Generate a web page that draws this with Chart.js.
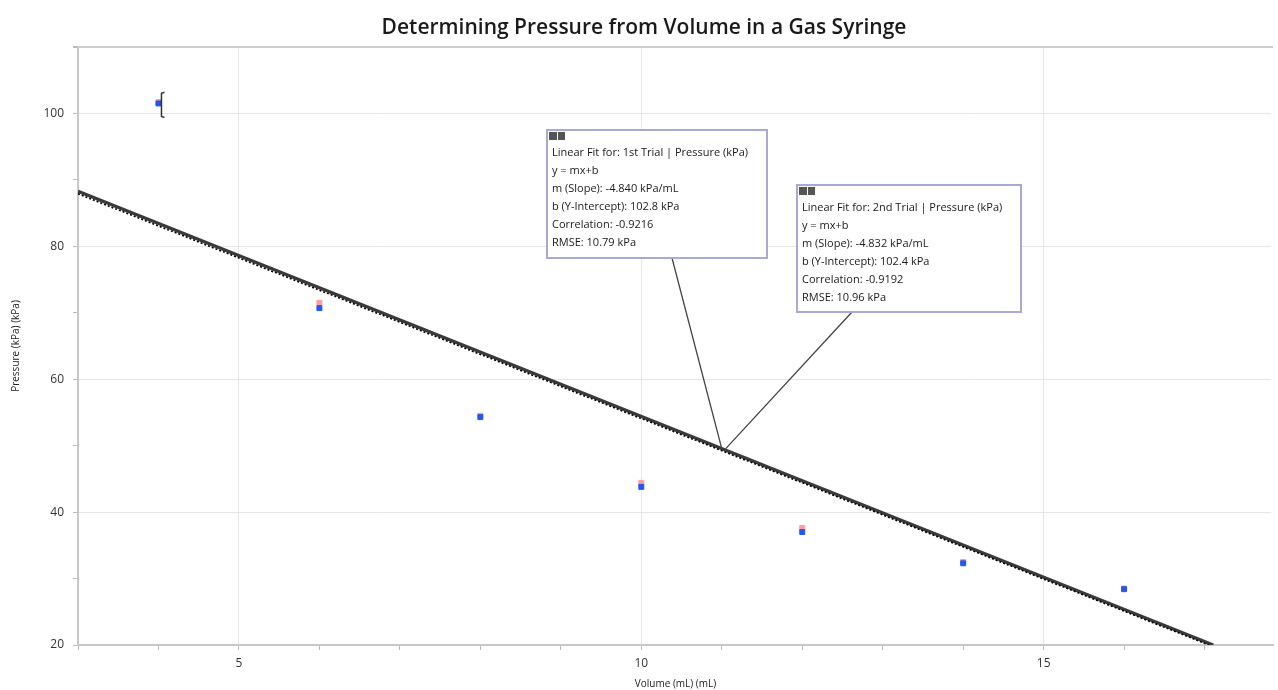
<!DOCTYPE html>
<html>
<head>
<meta charset="utf-8">
<script src="https://cdn.jsdelivr.net/npm/chart.js@4/dist/chart.umd.min.js"></script>
<style>
html,body{margin:0;padding:0;background:#fff;}
#wrap{width:1278px;height:690px;position:relative;overflow:hidden;}
</style>
</head>
<body>
<div id="wrap"><canvas id="c" width="1278" height="690"></canvas></div>
<script>
// ---- data ----
const volumes = [4, 6, 8, 10, 12, 14, 16];
const trial1Pressure = [101.7, 71.5, 54.5, 44.4, 37.6, 32.5, 28.5];
const trial2Pressure = [101.5, 70.7, 54.3, 43.8, 37.0, 32.3, 28.4];
const fitNames = ['1st Trial', '2nd Trial'];
const fitSlopes = [-4.840, -4.832];
const fitIntercepts = [102.8, 102.4];
const fitCorrelations = ['-0.9216', '-0.9192'];
const fitRMSE = ['10.79', '10.96'];
const errX = [4];
const errLow = [99.4];
const errHigh = [103.2];
const xRange = [3, 17.85];
const yRange = [20, 110];
const annotationX = 11;

const fitLine = (i) => {
  const x0 = xRange[0];
  const x1 = (yRange[0] - fitIntercepts[i]) / fitSlopes[i];
  return [{x: x0, y: fitSlopes[i]*x0 + fitIntercepts[i]}, {x: x1, y: yRange[0]}];
};

const mk = (ys) => volumes.map((v, i) => ({x: v, y: ys[i]}));

const FONT = '"Open Sans", "DejaVu Sans", sans-serif';

const edgePlugin = {
  id: 'edge',
  beforeDatasetsDraw(chart) {
    const {ctx, chartArea: ca} = chart;
    ctx.save();
    ctx.fillStyle = '#fff';
    ctx.fillRect(ca.right - 2, ca.top + 2, 10, ca.bottom - ca.top - 3);
    ctx.restore();
  }
};

const errPlugin = {
  id: 'err',
  afterDatasetsDraw(chart) {
    const {ctx, scales: {x, y}} = chart;
    ctx.save();
    ctx.strokeStyle = '#333';
    ctx.lineWidth = 1.5;
    errX.forEach((ex, i) => {
      const px = x.getPixelForValue(ex) + 3;
      const t = y.getPixelForValue(errHigh[i]);
      const b = y.getPixelForValue(errLow[i]);
      ctx.beginPath();
      ctx.moveTo(px + 3, t);
      ctx.lineTo(px, t + 1);
      ctx.lineTo(px, b - 1);
      ctx.lineTo(px + 3, b);
      ctx.stroke();
    });
    ctx.restore();
  }
};

const boxes = [
  {l: 547, t: 130, w: 220, h: 128, lx: 672},
  {l: 797, t: 185, w: 224, h: 127, lx: 852}
];

const annPlugin = {
  id: 'ann',
  afterDraw(chart) {
    const {ctx, scales: {x, y}} = chart;
    const ax = x.getPixelForValue(annotationX);
    const ay = y.getPixelForValue(fitSlopes[0]*annotationX + fitIntercepts[0]);
    ctx.save();
    boxes.forEach((b, i) => {
      ctx.strokeStyle = '#444';
      ctx.lineWidth = 1.3;
      ctx.beginPath();
      ctx.moveTo(b.lx, b.t + b.h);
      ctx.lineTo(ax + (i === 0 ? 0 : 4), ay);
      ctx.stroke();
      ctx.fillStyle = '#fff';
      ctx.fillRect(b.l, b.t, b.w, b.h);
      ctx.strokeStyle = '#a9a9d6';
      ctx.lineWidth = 2;
      ctx.strokeRect(b.l, b.t, b.w, b.h);
      ctx.fillStyle = '#555';
      ctx.fillRect(b.l + 2, b.t + 2, 8, 8);
      ctx.fillRect(b.l + 11, b.t + 2, 7, 8);
      const lines = [
        'Linear Fit for: ' + fitNames[i] + ' | Pressure (kPa)',
        'y = mx+b',
        'm (Slope): ' + fitSlopes[i].toFixed(3) + ' kPa/mL',
        'b (Y-Intercept): ' + fitIntercepts[i].toFixed(1) + ' kPa',
        'Correlation: ' + fitCorrelations[i],
        'RMSE: ' + fitRMSE[i] + ' kPa'
      ];
      ctx.fillStyle = '#1a1a1a';
      ctx.font = '11px ' + FONT;
      ctx.textBaseline = 'middle';
      ctx.textAlign = 'left';
      lines.forEach((s, k) => ctx.fillText(s, b.l + 5, b.t + 23 + k*18));
    });
    ctx.restore();
  }
};

new Chart(document.getElementById('c'), {
  type: 'scatter',
  data: {
    datasets: [
      {label: 'Fit 1st', type: 'line', data: fitLine(0), borderColor: '#3a3a3a', borderWidth: 3.2, pointRadius: 0, showLine: true, order: 3},
      {label: 'Fit 2nd', type: 'line', data: fitLine(1), borderColor: '#000', borderWidth: 1.6, borderDash: [2, 2], pointRadius: 0, showLine: true, order: 2},
      {label: '1st Trial', data: mk(trial1Pressure), backgroundColor: '#ff9ca4', borderColor: '#ff9ca4', pointStyle: 'rect', pointRadius: 3.5, order: 1},
      {label: '2nd Trial', data: mk(trial2Pressure), backgroundColor: '#2457ee', borderColor: '#2457ee', pointStyle: 'rect', pointRadius: 3.5, order: 0}
    ]
  },
  options: {
    responsive: false,
    animation: false,
    layout: {padding: {left: 10, right: 0, top: 0, bottom: 0}},
    plugins: {
      legend: {display: false},
      tooltip: {enabled: false},
      title: {
        display: true,
        text: 'Determining Pressure from Volume in a Gas Syringe',
        color: '#1a1a1a',
        font: {family: FONT, size: 21, weight: '600'},
        padding: {top: 15, bottom: 6.8}
      }
    },
    scales: {
      x: {
        type: 'linear', min: xRange[0], max: xRange[1],
        afterFit: (s) => { s.height = 45; },
        afterBuildTicks: (s) => { s.ticks = s.ticks.filter(t => Number.isInteger(t.value)); },
        ticks: {stepSize: 1, color: '#333', font: {family: FONT, size: 12}, padding: 6, maxRotation: 0, autoSkip: false,
          callback: (v) => (v % 5 === 0 ? v : '')},
        grid: {color: (c) => (c.tick && c.tick.value % 5 === 0 ? '#e6e6e6' : 'rgba(0,0,0,0)'), tickColor: '#bbb', tickLength: 5, lineWidth: 1},
        border: {color: '#c8c8c8', width: 2},
        title: {display: true, text: 'Volume (mL) (mL)', color: '#222', font: {family: FONT, size: 10}, padding: {top: 0, bottom: 0}}
      },
      y: {
        type: 'linear', min: yRange[0], max: yRange[1],
        afterFit: (s) => { s.width = 68; },
        ticks: {stepSize: 10, color: '#333', font: {family: FONT, size: 12}, padding: 9, autoSkip: false,
          callback: (v) => (v % 20 === 0 ? v : '')},
        grid: {color: (c) => (c.tick && c.tick.value % 20 === 0 ? '#e6e6e6' : (c.tick && c.tick.value === 110 ? '#cfcfcf' : 'rgba(0,0,0,0)')), tickColor: '#bbb', tickLength: 5, lineWidth: (c) => (c.tick && c.tick.value === 110 ? 2 : 1)},
        border: {color: '#c8c8c8', width: 2},
        title: {display: true, text: 'Pressure (kPa) (kPa)', color: '#222', font: {family: FONT, size: 10}, padding: {top: 0, bottom: 0}}
      }
    }
  },
  plugins: [edgePlugin, errPlugin, annPlugin]
});
</script>
</body>
</html>
